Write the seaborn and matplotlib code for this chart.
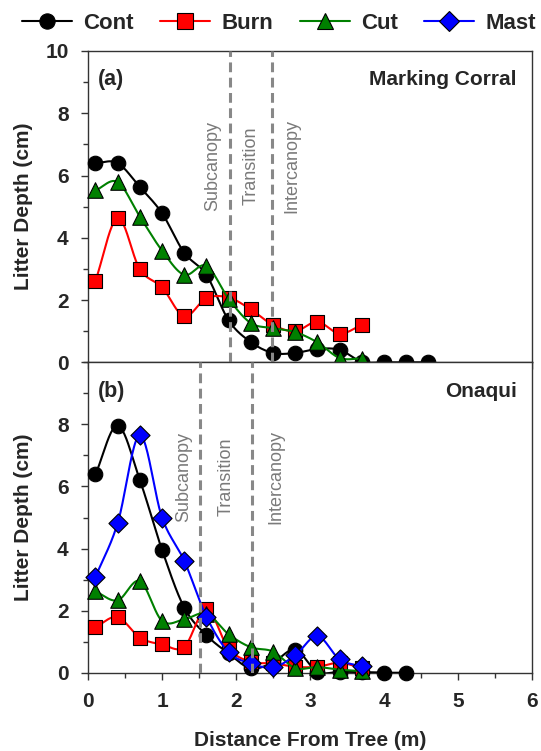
import numpy as np
import pandas as pd
import matplotlib
matplotlib.use("Agg")
import matplotlib.pyplot as plt
from matplotlib.lines import Line2D
from matplotlib.ticker import MultipleLocator
import seaborn as sns

sns.set_style("ticks")
plt.rcParams['font.family'] = ['Liberation Sans', 'DejaVu Sans']

# ---------------- data ----------------
dist = [0.1, 0.4, 0.7, 1.0, 1.3, 1.6, 1.9, 2.2, 2.5, 2.8, 3.1, 3.4, 3.7, 4.0, 4.3, 4.6]

# (a) Marking Corral
cont_a = [6.40, 6.40, 5.63, 4.79, 3.52, 2.81, 1.35, 0.65, 0.30, 0.30, 0.43, 0.40, 0.02, 0.0, 0.0, 0.0]
burn_a = [2.61, 4.63, 2.99, 2.41, 1.48, 2.06, 2.08, 1.70, 1.20, 1.00, 1.30, 0.92, 1.20]
cut_a = [5.52, 5.79, 4.68, 3.59, 2.81, 3.10, 2.04, 1.26, 1.10, 0.97, 0.64, 0.14, 0.12]

# (b) Onaqui
cont_b = [6.39, 7.96, 6.21, 3.96, 2.10, 1.21, 0.62, 0.14, 0.33, 0.74, 0.03, 0.03, 0.02, 0.0, 0.0]
burn_b = [1.47, 1.79, 1.13, 0.91, 0.83, 2.05, 0.78, 0.35, 0.30, 0.19, 0.19, 0.32, 0.15]
cut_b = [2.62, 2.33, 2.95, 1.67, 1.72, 1.90, 1.24, 0.82, 0.68, 0.15, 0.18, 0.10, 0.05]
mast_b = [3.08, 4.81, 7.65, 5.00, 3.61, 1.81, 0.66, 0.30, 0.17, 0.56, 1.18, 0.43, 0.20]

zone_names = ["Subcanopy", "Transition", "Intercanopy"]
bounds_a = [1.92, 2.48]
bounds_b = [1.52, 2.21]
site_names = ["Marking Corral", "Onaqui"]
panel_tags = ["(a)", "(b)"]
series_names = ["Cont", "Burn", "Cut", "Mast"]

# ---------------- styles ----------------
style = {
    "Cont": dict(color="black", marker="o", s=110),
    "Burn": dict(color="#FF0000", marker="s", s=95),
    "Cut": dict(color="#008000", marker="^", s=125),
    "Mast": dict(color="#0000FF", marker="D", s=95),
}


def smooth(x, y, n=24):
    """Catmull-Rom style cubic Hermite curve through the data points."""
    x = np.asarray(x, float)
    y = np.asarray(y, float)
    m = np.empty_like(y)
    m[1:-1] = (y[2:] - y[:-2]) / 2.0
    m[0] = y[1] - y[0]
    m[-1] = y[-1] - y[-2]
    t = np.linspace(0, 1, n)
    h00 = 2 * t**3 - 3 * t**2 + 1
    h10 = t**3 - 2 * t**2 + t
    h01 = -2 * t**3 + 3 * t**2
    h11 = t**3 - t**2
    xs, ys = [], []
    for i in range(len(x) - 1):
        xs.append(x[i] + t * (x[i + 1] - x[i]))
        ys.append(h00 * y[i] + h10 * m[i] + h01 * y[i + 1] + h11 * m[i + 1])
    return np.concatenate(xs), np.concatenate(ys)


fig = plt.figure(figsize=(5.41, 7.51), dpi=100)
W, H = 541, 751
left = 88 / W
width = (532 - 88) / W
ax_a = fig.add_axes([left, 1 - 362.3 / H, width, (362.3 - 51) / H])
ax_b = fig.add_axes([left, 1 - 672.7 / H, width, (672.7 - 362.3) / H])

panels = [
    (ax_a, {"Cont": cont_a, "Burn": burn_a, "Cut": cut_a}, bounds_a,
     [1.68, 2.20, 2.75], 6.3),
    (ax_b, {"Cont": cont_b, "Burn": burn_b, "Cut": cut_b, "Mast": mast_b}, bounds_b,
     [1.30, 1.87, 2.54], 6.3),
]

for k, (ax, data, bounds, zx, zy) in enumerate(panels):
    for j, name in enumerate(series_names):
        if name not in data:
            continue
        vals = data[name]
        xv = dist[:len(vals)]
        st = style[name]
        sx, sy = smooth(xv, vals)
        df_line = pd.DataFrame({"x": sx, "y": sy})
        sns.lineplot(data=df_line, x="x", y="y", color=st["color"], lw=1.5,
                     sort=False, estimator=None, ax=ax, zorder=3 + j)
        df_pts = pd.DataFrame({"x": xv, "y": vals})
        sns.scatterplot(data=df_pts, x="x", y="y", color=st["color"], marker=st["marker"],
                        s=st["s"], edgecolor="black", linewidth=0.8, ax=ax,
                        zorder=3.5 + j, clip_on=False)
    for b in bounds:
        ax.axvline(b, color="#888888", lw=2.2, ls=(0, (3.2, 1.8)), zorder=10)
    for name, xz in zip(zone_names, zx):
        ax.text(xz, zy, name, rotation=90, ha="center", va="center",
                color="#7a7a7a", fontsize=13)
    ax.text(0.023, 0.907, panel_tags[k], transform=ax.transAxes, ha="left", va="center",
            fontsize=15.5, fontweight="bold")
    ax.text(0.966, 0.907, site_names[k], transform=ax.transAxes, ha="right", va="center",
            fontsize=15, fontweight="bold")

    ax.set_xlim(0, 6)
    ax.set_ylim(0, 10)
    ax.xaxis.set_major_locator(MultipleLocator(1))
    ax.xaxis.set_minor_locator(MultipleLocator(0.5))
    ax.yaxis.set_major_locator(MultipleLocator(2))
    ax.yaxis.set_minor_locator(MultipleLocator(1))
    ax.tick_params(axis="both", which="major", direction="out", length=5, width=1,
                   color="#333333", labelsize=15, pad=9)
    ax.tick_params(axis="both", which="minor", direction="out", length=3.5, width=1,
                   color="#333333")
    for sp in ax.spines.values():
        sp.set_visible(True)
        sp.set_color("#333333")
        sp.set_linewidth(1)
    ax.set_ylabel("Litter Depth (cm)", fontsize=15, fontweight="bold")
    ax.set_xlabel("")

ax_a.set_yticks([0, 2, 4, 6, 8, 10])
ax_a.set_yticklabels(["0", "2", "4", "6", "8", "10"], fontweight="bold")
ax_a.tick_params(axis="x", which="both", labelbottom=False)
ax_b.set_yticks([0, 2, 4, 6, 8])
ax_b.set_yticklabels(["0", "2", "4", "6", "8"], fontweight="bold")
ax_b.set_xticks([0, 1, 2, 3, 4, 5, 6])
ax_b.set_xticklabels([str(v) for v in range(7)], fontweight="bold")
ax_b.set_xlabel("Distance From Tree (m)", fontsize=15, fontweight="bold", labelpad=14)
ax_a.yaxis.set_label_coords(-0.124, 0.5)
ax_b.yaxis.set_label_coords(-0.124, 0.5)

handles = []
for name in series_names:
    st = style[name]
    handles.append(Line2D([0], [0], color=st["color"], lw=1.5, marker=st["marker"],
                          markersize=11 if name != "Mast" else 10.5,
                          markerfacecolor=st["color"], markeredgecolor="black",
                          markeredgewidth=0.8))
fig.legend(handles, series_names, loc="center", bbox_to_anchor=(279 / W, 1 - 23.5 / H),
           ncol=4, frameon=False, prop={"weight": "bold", "size": 16},
           handlelength=2.25, handletextpad=0.5, columnspacing=1.2, borderaxespad=0,
           borderpad=0)

fig.savefig("out.png", dpi=100, facecolor="white")
